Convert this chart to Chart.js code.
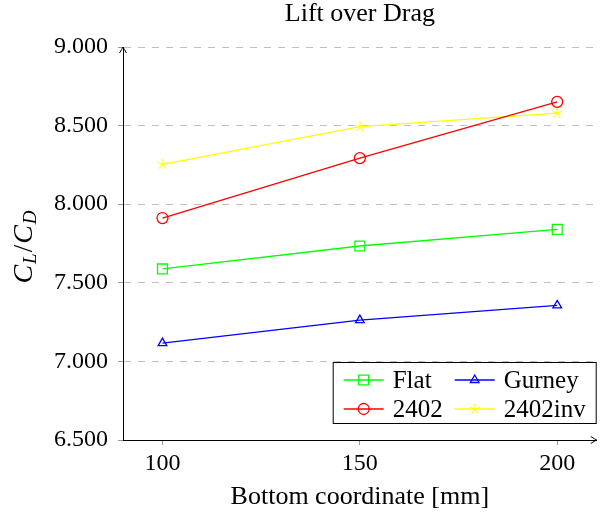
<!DOCTYPE html>
<html>
<head>
<meta charset="utf-8">
<script src="https://cdn.jsdelivr.net/npm/chart.js@4/dist/chart.umd.min.js"></script>
<style>
  html, body { margin: 0; padding: 0; background: #fff; }
  #wrap { width: 605px; height: 513px; }
</style>
</head>
<body>
<div id="wrap"><canvas id="lod" width="605" height="513"></canvas></div>
<script>
const xValues = [100, 150, 200];
const flat = [7.588, 7.734, 7.840];
const gurney = [7.116, 7.263, 7.356];
const naca2402 = [7.912, 8.293, 8.651];
const naca2402inv = [8.254, 8.493, 8.580];
const xTicks = [100, 150, 200];
const yTicks = [6.5, 7.0, 7.5, 8.0, 8.5, 9.0];

const FONT = "'Liberation Serif', 'Times New Roman', serif";

function pts(ys) {
  return ys.map(function(y, i) { return { x: xValues[i], y: y }; });
}

// five spoke star like the pgfplots "star" mark
function makeStar(color, r) {
  var c = document.createElement("canvas");
  var s = 2 * Math.ceil(r + 2);
  c.width = s; c.height = s;
  var g = c.getContext("2d");
  g.strokeStyle = color;
  g.lineWidth = 1.2;
  g.beginPath();
  for (var i = 0; i < 5; i++) {
    var a = -Math.PI / 2 + i * 2 * Math.PI / 5;
    g.moveTo(s / 2, s / 2);
    g.lineTo(s / 2 + r * Math.cos(a), s / 2 + r * Math.sin(a));
  }
  g.stroke();
  return c;
}

function series(label, ys, color, style, radius) {
  return {
    label: label,
    data: pts(ys),
    borderColor: color,
    backgroundColor: "rgba(0,0,0,0)",
    borderWidth: 1.3,
    pointStyle: style,
    pointRadius: radius,
    pointBorderColor: color,
    pointBackgroundColor: "rgba(0,0,0,0)",
    pointBorderWidth: 1.3,
    tension: 0
  };
}

const axisArrows = {
  id: "axisArrows",
  afterDraw(chart) {
    var ctx = chart.ctx, a = chart.chartArea;
    ctx.save();
    ctx.strokeStyle = "#000";
    ctx.lineWidth = 1;
    ctx.beginPath();
    // x arrow
    ctx.moveTo(a.right - 6, a.bottom - 3.5);
    ctx.quadraticCurveTo(a.right - 2, a.bottom - 1, a.right, a.bottom);
    ctx.quadraticCurveTo(a.right - 2, a.bottom + 1, a.right - 6, a.bottom + 3.5);
    // y arrow
    ctx.moveTo(a.left - 3.5, a.top + 6);
    ctx.quadraticCurveTo(a.left - 1, a.top + 2, a.left, a.top);
    ctx.quadraticCurveTo(a.left + 1, a.top + 2, a.left + 3.5, a.top + 6);
    ctx.stroke();
    ctx.restore();
  }
};

const yTitle = {
  id: "yTitle",
  afterDraw(chart) {
    var ctx = chart.ctx, a = chart.chartArea;
    var big = "italic 28px " + FONT, small = "italic 19px " + FONT, up = "27px " + FONT;
    var parts = [
      { t: "C", f: big, dy: 0 },
      { t: "L", f: small, dy: 4 },
      { t: "/", f: up, dy: 0 },
      { t: "C", f: big, dy: 0 },
      { t: "D", f: small, dy: 4 }
    ];
    ctx.save();
    var total = 0;
    parts.forEach(function(p) { ctx.font = p.f; p.w = ctx.measureText(p.t).width + 1; total += p.w; });
    ctx.translate(24, (a.top + a.bottom) / 2 + 3);
    ctx.rotate(-Math.PI / 2);
    ctx.fillStyle = "#000";
    ctx.textBaseline = "alphabetic";
    var x = -total / 2;
    parts.forEach(function(p) {
      ctx.font = p.f;
      ctx.fillText(p.t, x, 8 + p.dy);
      x += p.w;
    });
    ctx.restore();
  }
};

const insideLegend = {
  id: "insideLegend",
  afterDatasetsDraw(chart) {
    var ctx = chart.ctx, a = chart.chartArea;
    var w = 264, h = 62;
    var left = a.right - w, top = a.bottom - 16 - h;
    ctx.save();
    ctx.fillStyle = "#fff";
    ctx.fillRect(left, top, w, h);
    ctx.strokeStyle = "#000";
    ctx.lineWidth = 1;
    ctx.strokeRect(left + 0.5, top + 0.5, w - 1, h - 1);
    chart.data.datasets.forEach(function(ds, i) {
      var col = i % 2, row = Math.floor(i / 2);
      var x0 = left + (col === 0 ? 11 : 122);
      var y = top + 18 + row * 29;
      ctx.strokeStyle = ds.borderColor;
      ctx.lineWidth = ds.borderWidth;
      ctx.beginPath();
      ctx.moveTo(x0, y);
      ctx.lineTo(x0 + 40, y);
      ctx.stroke();
      ctx.fillStyle = "rgba(0,0,0,0)";
      Chart.helpers.drawPoint(ctx, {
        pointStyle: ds.pointStyle, radius: ds.pointRadius, rotation: 0, borderWidth: ds.pointBorderWidth
      }, x0 + 20, y);
      ctx.fillStyle = "#000";
      ctx.font = "25px " + FONT;
      ctx.textBaseline = "middle";
      ctx.textAlign = "left";
      ctx.fillText(ds.label, x0 + 49, y + 1);
    });
    ctx.restore();
  }
};

new Chart(document.getElementById("lod"), {
  type: "line",
  data: {
    datasets: [
      series("Flat", flat, "#00ff00", "rect", 7),
      series("Gurney", gurney, "#0000ff", "triangle", 5),
      series("2402", naca2402, "#ff0000", "circle", 5.5),
      series("2402inv", naca2402inv, "#ffff00", makeStar("#ffff00", 5.5), 5.5)
    ]
  },
  options: {
    responsive: false,
    animation: false,
    layout: { padding: { left: 0, right: 8, top: 0, bottom: 0 } },
    scales: {
      x: {
        type: "linear",
        min: 90,
        max: 210,
        afterBuildTicks: function(s) { s.ticks = xTicks.map(function(v) { return { value: v }; }); },
        afterFit: function(s) { s.height = 73; },
        ticks: { color: "#000", font: { family: FONT, size: 24 }, padding: 4, maxRotation: 0 },
        grid: { drawOnChartArea: false, drawTicks: true, tickLength: 5, tickColor: "#999" },
        border: { color: "#000", width: 1 },
        title: {
          display: true, text: "Bottom coordinate [mm]", color: "#000",
          font: { family: FONT, size: 26 }, padding: { top: 0, bottom: 0 }
        }
      },
      y: {
        min: 6.5,
        max: 9.0,
        afterBuildTicks: function(s) { s.ticks = yTicks.map(function(v) { return { value: v }; }); },
        afterFit: function(s) { s.width = 123; },
        ticks: {
          color: "#000", font: { family: FONT, size: 24 }, padding: 10,
          callback: function(v) { return Number(v).toFixed(3); }
        },
        grid: { color: "rgba(0,0,0,0.25)", tickLength: 5, tickColor: "#999", borderDash: [7, 7] },
        border: { color: "#000", width: 1, dash: [7, 7] }
      }
    },
    plugins: {
      legend: { display: false },
      tooltip: { enabled: false },
      title: {
        display: true, text: "Lift over Drag", color: "#000", fullSize: false,
        font: { family: FONT, size: 26, weight: "normal", lineHeight: 1.0 },
        padding: { top: 1, bottom: 20 }
      }
    }
  },
  plugins: [insideLegend, axisArrows, yTitle]
});
</script>
</body>
</html>
